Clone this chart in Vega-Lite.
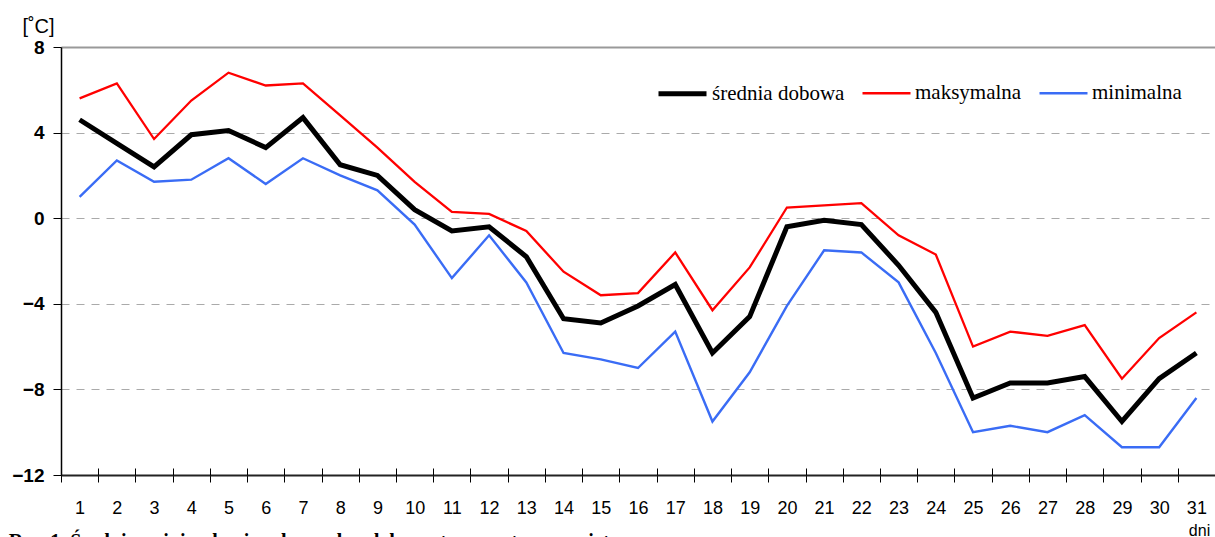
{
  "$schema": "https://vega.github.io/schema/vega-lite/v6.json",
  "width": 1154,
  "height": 428,
  "autosize": {"type": "none"},
  "padding": {"left": 61, "top": 47, "right": 0, "bottom": 62},
  "background": "white",
  "config": {
    "view": {"stroke": null},
    "font": "Liberation Sans",
    "legend": {
      "orient": "none",
      "legendX": 595,
      "legendY": 20,
      "direction": "horizontal",
      "symbolType": "stroke",
      "symbolSize": 2304,
      "labelFont": "Liberation Serif",
      "labelFontSize": 21,
      "labelColor": "black",
      "labelOffset": 3,
      "columnPadding": 12,
      "padding": 0
    }
  },
  "title": {
    "text": "Rys. 1. Średnia, minimalna i maksymalna dobowa temperatura powietrza",
    "orient": "bottom",
    "anchor": "start",
    "frame": "bounds",
    "font": "Liberation Serif",
    "fontSize": 20,
    "fontWeight": "bold",
    "color": "black",
    "offset": -6,
    "dx": -3
  },
  "data": {
    "values": [
      {"day": 1, "średnia dobowa": 4.6, "maksymalna": 5.6, "minimalna": 1.0},
      {"day": 2, "średnia dobowa": 3.5, "maksymalna": 6.3, "minimalna": 2.7},
      {"day": 3, "średnia dobowa": 2.4, "maksymalna": 3.7, "minimalna": 1.7},
      {"day": 4, "średnia dobowa": 3.9, "maksymalna": 5.5, "minimalna": 1.8},
      {"day": 5, "średnia dobowa": 4.1, "maksymalna": 6.8, "minimalna": 2.8},
      {"day": 6, "średnia dobowa": 3.3, "maksymalna": 6.2, "minimalna": 1.6},
      {"day": 7, "średnia dobowa": 4.7, "maksymalna": 6.3, "minimalna": 2.8},
      {"day": 8, "średnia dobowa": 2.5, "maksymalna": 4.8, "minimalna": 2.0},
      {"day": 9, "średnia dobowa": 2.0, "maksymalna": 3.3, "minimalna": 1.3},
      {"day": 10, "średnia dobowa": 0.4, "maksymalna": 1.7, "minimalna": -0.3},
      {"day": 11, "średnia dobowa": -0.6, "maksymalna": 0.3, "minimalna": -2.8},
      {"day": 12, "średnia dobowa": -0.4, "maksymalna": 0.2, "minimalna": -0.8},
      {"day": 13, "średnia dobowa": -1.8, "maksymalna": -0.6, "minimalna": -3.0},
      {"day": 14, "średnia dobowa": -4.7, "maksymalna": -2.5, "minimalna": -6.3},
      {"day": 15, "średnia dobowa": -4.9, "maksymalna": -3.6, "minimalna": -6.6},
      {"day": 16, "średnia dobowa": -4.1, "maksymalna": -3.5, "minimalna": -7.0},
      {"day": 17, "średnia dobowa": -3.1, "maksymalna": -1.6, "minimalna": -5.3},
      {"day": 18, "średnia dobowa": -6.3, "maksymalna": -4.3, "minimalna": -9.5},
      {"day": 19, "średnia dobowa": -4.6, "maksymalna": -2.3, "minimalna": -7.2},
      {"day": 20, "średnia dobowa": -0.4, "maksymalna": 0.5, "minimalna": -4.1},
      {"day": 21, "średnia dobowa": -0.1, "maksymalna": 0.6, "minimalna": -1.5},
      {"day": 22, "średnia dobowa": -0.3, "maksymalna": 0.7, "minimalna": -1.6},
      {"day": 23, "średnia dobowa": -2.2, "maksymalna": -0.8, "minimalna": -3.0},
      {"day": 24, "średnia dobowa": -4.4, "maksymalna": -1.7, "minimalna": -6.3},
      {"day": 25, "średnia dobowa": -8.4, "maksymalna": -6.0, "minimalna": -10.0},
      {"day": 26, "średnia dobowa": -7.7, "maksymalna": -5.3, "minimalna": -9.7},
      {"day": 27, "średnia dobowa": -7.7, "maksymalna": -5.5, "minimalna": -10.0},
      {"day": 28, "średnia dobowa": -7.4, "maksymalna": -5.0, "minimalna": -9.2},
      {"day": 29, "średnia dobowa": -9.5, "maksymalna": -7.5, "minimalna": -10.7},
      {"day": 30, "średnia dobowa": -7.5, "maksymalna": -5.6, "minimalna": -10.7},
      {"day": 31, "średnia dobowa": -6.3, "maksymalna": -4.4, "minimalna": -8.4}
    ]
  },
  "transform": [
    {"fold": ["średnia dobowa", "maksymalna", "minimalna"], "as": ["series", "t"]}
  ],
  "encoding": {
    "y": {
      "field": "t",
      "type": "quantitative",
      "title": "[˚C]",
      "scale": {"domain": [-12, 8], "nice": false, "zero": false},
      "axis": {
        "values": [-12, -8, -4, 0, 4, 8],
        "domainColor": "black",
        "domainWidth": 1.5,
        "tickColor": "black",
        "tickSize": 8,
        "labelFont": "Liberation Sans",
        "labelFontSize": 19,
        "labelFontWeight": "bold",
        "labelColor": "black",
        "labelPadding": 9,
        "grid": true,
        "gridColor": {"condition": {"test": "datum.value === 8", "value": "#999999"}, "value": "#aaaaaa"},
        "gridWidth": {"condition": {"test": "datum.value === 8", "value": 2}, "value": 1},
        "gridDash": {"condition": {"test": "datum.value === 8", "value": []}, "value": [8, 7]},
        "titleAngle": 0,
        "titleX": -23,
        "titleY": -15,
        "titleAlign": "center",
        "titleBaseline": "alphabetic",
        "titleFont": "Liberation Sans",
        "titleFontSize": 20,
        "titleFontWeight": "normal",
        "titleColor": "black"
      }
    },
    "color": {
      "field": "series",
      "type": "nominal",
      "title": null,
      "scale": {"domain": ["średnia dobowa", "maksymalna", "minimalna"], "range": ["#000000", "#ff0000", "#3a6cf5"]}
    },
    "strokeWidth": {
      "field": "series",
      "type": "nominal",
      "title": null,
      "scale": {"type": "ordinal", "domain": ["średnia dobowa", "maksymalna", "minimalna"], "range": [5, 2.3, 2.4]}
    }
  },
  "layer": [
    {
      "transform": [{"filter": "datum.series !== 'średnia dobowa'"}],
      "mark": {"type": "line"},
      "encoding": {
        "x": {
          "field": "day",
          "type": "ordinal",
          "bandPosition": 0.5,
          "scale": {"type": "band", "paddingInner": 0, "paddingOuter": 0},
          "axis": {
            "labelAngle": 0,
            "tickBand": "extent",
            "domainColor": "#222222",
            "domainWidth": 2,
            "tickColor": "black",
            "tickSize": 7,
            "labelFont": "Liberation Sans",
            "labelFontSize": 18,
            "labelColor": "black",
            "labelPadding": 17,
            "title": "dni",
            "titleX": 1138,
            "titleY": 60,
            "titleAlign": "center",
            "titleBaseline": "alphabetic",
            "titleFont": "Liberation Sans",
            "titleFontSize": 16,
            "titleFontWeight": "normal",
            "titleColor": "black"
          }
        }
      }
    },
    {
      "transform": [{"filter": "datum.series === 'średnia dobowa'"}],
      "mark": {"type": "line"},
      "encoding": {
        "x": {
          "field": "day",
          "type": "ordinal",
          "bandPosition": 0.5,
          "scale": {"type": "band", "paddingInner": 0, "paddingOuter": 0},
          "axis": {
            "orient": "bottom",
            "tickBand": "extent",
            "domain": false,
            "labels": false,
            "grid": false,
            "title": null,
            "tickColor": "black",
            "tickSize": -7
          }
        }
      }
    }
  ],
  "resolve": {"axis": {"x": "independent"}}
}
